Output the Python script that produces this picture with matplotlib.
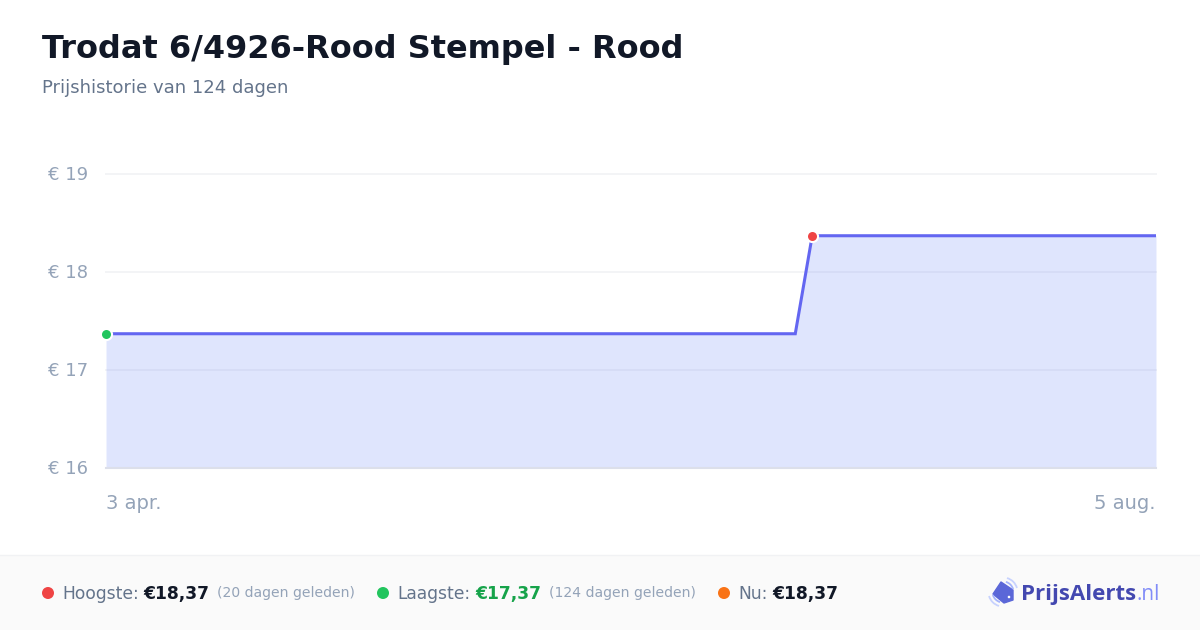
import matplotlib
matplotlib.use('Agg')
import matplotlib.pyplot as plt
from matplotlib.patches import Arc, Circle, Polygon, Rectangle
from matplotlib.transforms import ScaledTranslation

# Chart data
days = [0, 81.4, 83.4, 124]
prices = [17.37, 17.37, 18.37, 18.37]
y_ticks = [16, 17, 18, 19]
y_tick_labels = ['€ 16', '€ 17', '€ 18', '€ 19']
x_tick_days = [0, 124]
x_tick_labels = ['3 apr.', '5 aug.']
high_day, high_price = 83.4, 18.37
low_day, low_price = 0, 17.37

W, H = 1200, 630
plt.rcParams['font.family'] = ['DejaVu Sans']

fig = plt.figure(figsize=(W / 100, H / 100), dpi=100, facecolor='white')

# Background layer in pixel coordinates, for header and footer
bg = fig.add_axes([0, 0, 1, 1])
bg.set_xlim(0, W)
bg.set_ylim(H, 0)
bg.axis('off')
bg.add_patch(Rectangle((0, 555), W, 75, facecolor='#fafafa', edgecolor='none'))
bg.plot([0, W], [554.5, 554.5], color='#f1f2f4', lw=1)

bg.text(42, 46, 'Trodat 6/4926-Rood Stempel - Rood', fontsize=23, fontweight='bold',
        color='#111827', va='center_baseline', ha='left')
bg.text(42, 86, 'Prijshistorie van 124 dagen', fontsize=13, color='#64748b',
        va='center_baseline', ha='left')

# Chart area: x 106-1156 px, y 174-468 px
ax = fig.add_axes([106 / W, 1 - 468 / H, 1050 / W, 294 / H])
ax.patch.set_alpha(0)
ax.set_xlim(0, 124)
ax.set_ylim(16, 19)
for s in ax.spines.values():
    s.set_visible(False)
ax.set_yticks(y_ticks)
ax.set_yticklabels(y_tick_labels, fontsize=13, color='#94a3b8', va='center_baseline')
ax.set_xticks(x_tick_days)
ax.set_xticklabels(x_tick_labels, fontsize=14, color='#94a3b8')
ax.get_xticklabels()[0].set_ha('left')
ax.get_xticklabels()[1].set_ha('right')
ax.tick_params(axis='both', length=0)
ax.tick_params(axis='y', pad=13)
ax.tick_params(axis='x', pad=19)
# nudge the y labels up one pixel
nudge = ScaledTranslation(0, 1 / 100, fig.dpi_scale_trans)
for lab in ax.get_yticklabels():
    lab.set_transform(lab.get_transform() + nudge)
ax.grid(axis='y', color='#f3f4f6', lw=1.4, zorder=0, clip_on=False)
ax.set_axisbelow(True)

ax.fill_between(days, prices, 16, color='#6380f6', alpha=0.2, lw=0, zorder=1)
ax.plot(days, prices, color='#6366f1', lw=2.2, zorder=3, clip_on=False,
        solid_joinstyle='miter', solid_capstyle='butt')
ax.axhline(16, color='#dcdfea', lw=1.5, zorder=2, clip_on=False)
ax.plot([high_day], [high_price], 'o', ms=8, color='#ef4444', mec='white', mew=1.5,
        zorder=4, clip_on=False)
ax.plot([low_day], [low_price], 'o', ms=8, color='#22c55e', mec='white', mew=1.5,
        zorder=4, clip_on=False)

# Footer stats
fy = 593
ty = 592
fg = fig.add_axes([0, 0, 1, 1])
fg.set_xlim(0, W)
fg.set_ylim(H, 0)
fg.axis('off')
fg.patch.set_alpha(0)


def stat(dot_x, dot_color, label, label_x, value, value_x, value_color, note=None, note_x=None):
    fg.add_patch(Circle((dot_x, fy), 6, facecolor=dot_color, edgecolor='none'))
    fg.text(label_x, ty, label, fontsize=12.3, color='#64748b', va='center_baseline')
    fg.text(value_x, ty, value, fontsize=12.3, fontweight='bold', color=value_color,
            va='center_baseline')
    if note:
        fg.text(note_x, ty, note, fontsize=10.1, color='#94a3b8', va='center_baseline')


stat(48, '#ef4444', 'Hoogste:', 62, '€18,37', 143, '#111827', '(20 dagen geleden)', 217)
stat(383, '#22c55e', 'Laagste:', 397, '€17,37', 475, '#16a34a', '(124 dagen geleden)', 549)
stat(724, '#f97316', 'Nu:', 738, '€18,37', 772, '#111827')

# Logo
fg.add_patch(Polygon([(1001, 582), (1013, 590), (1013, 600), (1004, 603), (993, 594)],
                     closed=True, facecolor='#5b67d8', edgecolor='#5b67d8', lw=1, joinstyle='round'))
fg.add_patch(Circle((1009, 597), 1.3, facecolor='white', edgecolor='none'))
for r, c in [(10.5, '#a5b4fc'), (14.5, '#c7d2fe')]:
    fg.add_patch(Arc((1003, 592), r * 2, r * 2, theta1=-74, theta2=-16, color=c, lw=1.3))
    fg.add_patch(Arc((1003, 592), r * 2, r * 2, theta1=106, theta2=164, color=c, lw=1.3))
fg.text(1021, ty, 'PrijsAlerts', fontsize=16, fontweight='bold', family='Open Sans',
        color='#4348b0', va='center_baseline')
fg.text(1137, ty, '.nl', fontsize=15, family='Open Sans', color='#818cf8', va='center_baseline')

fig.savefig('out.png', dpi=100, facecolor='white')
plt.close(fig)
